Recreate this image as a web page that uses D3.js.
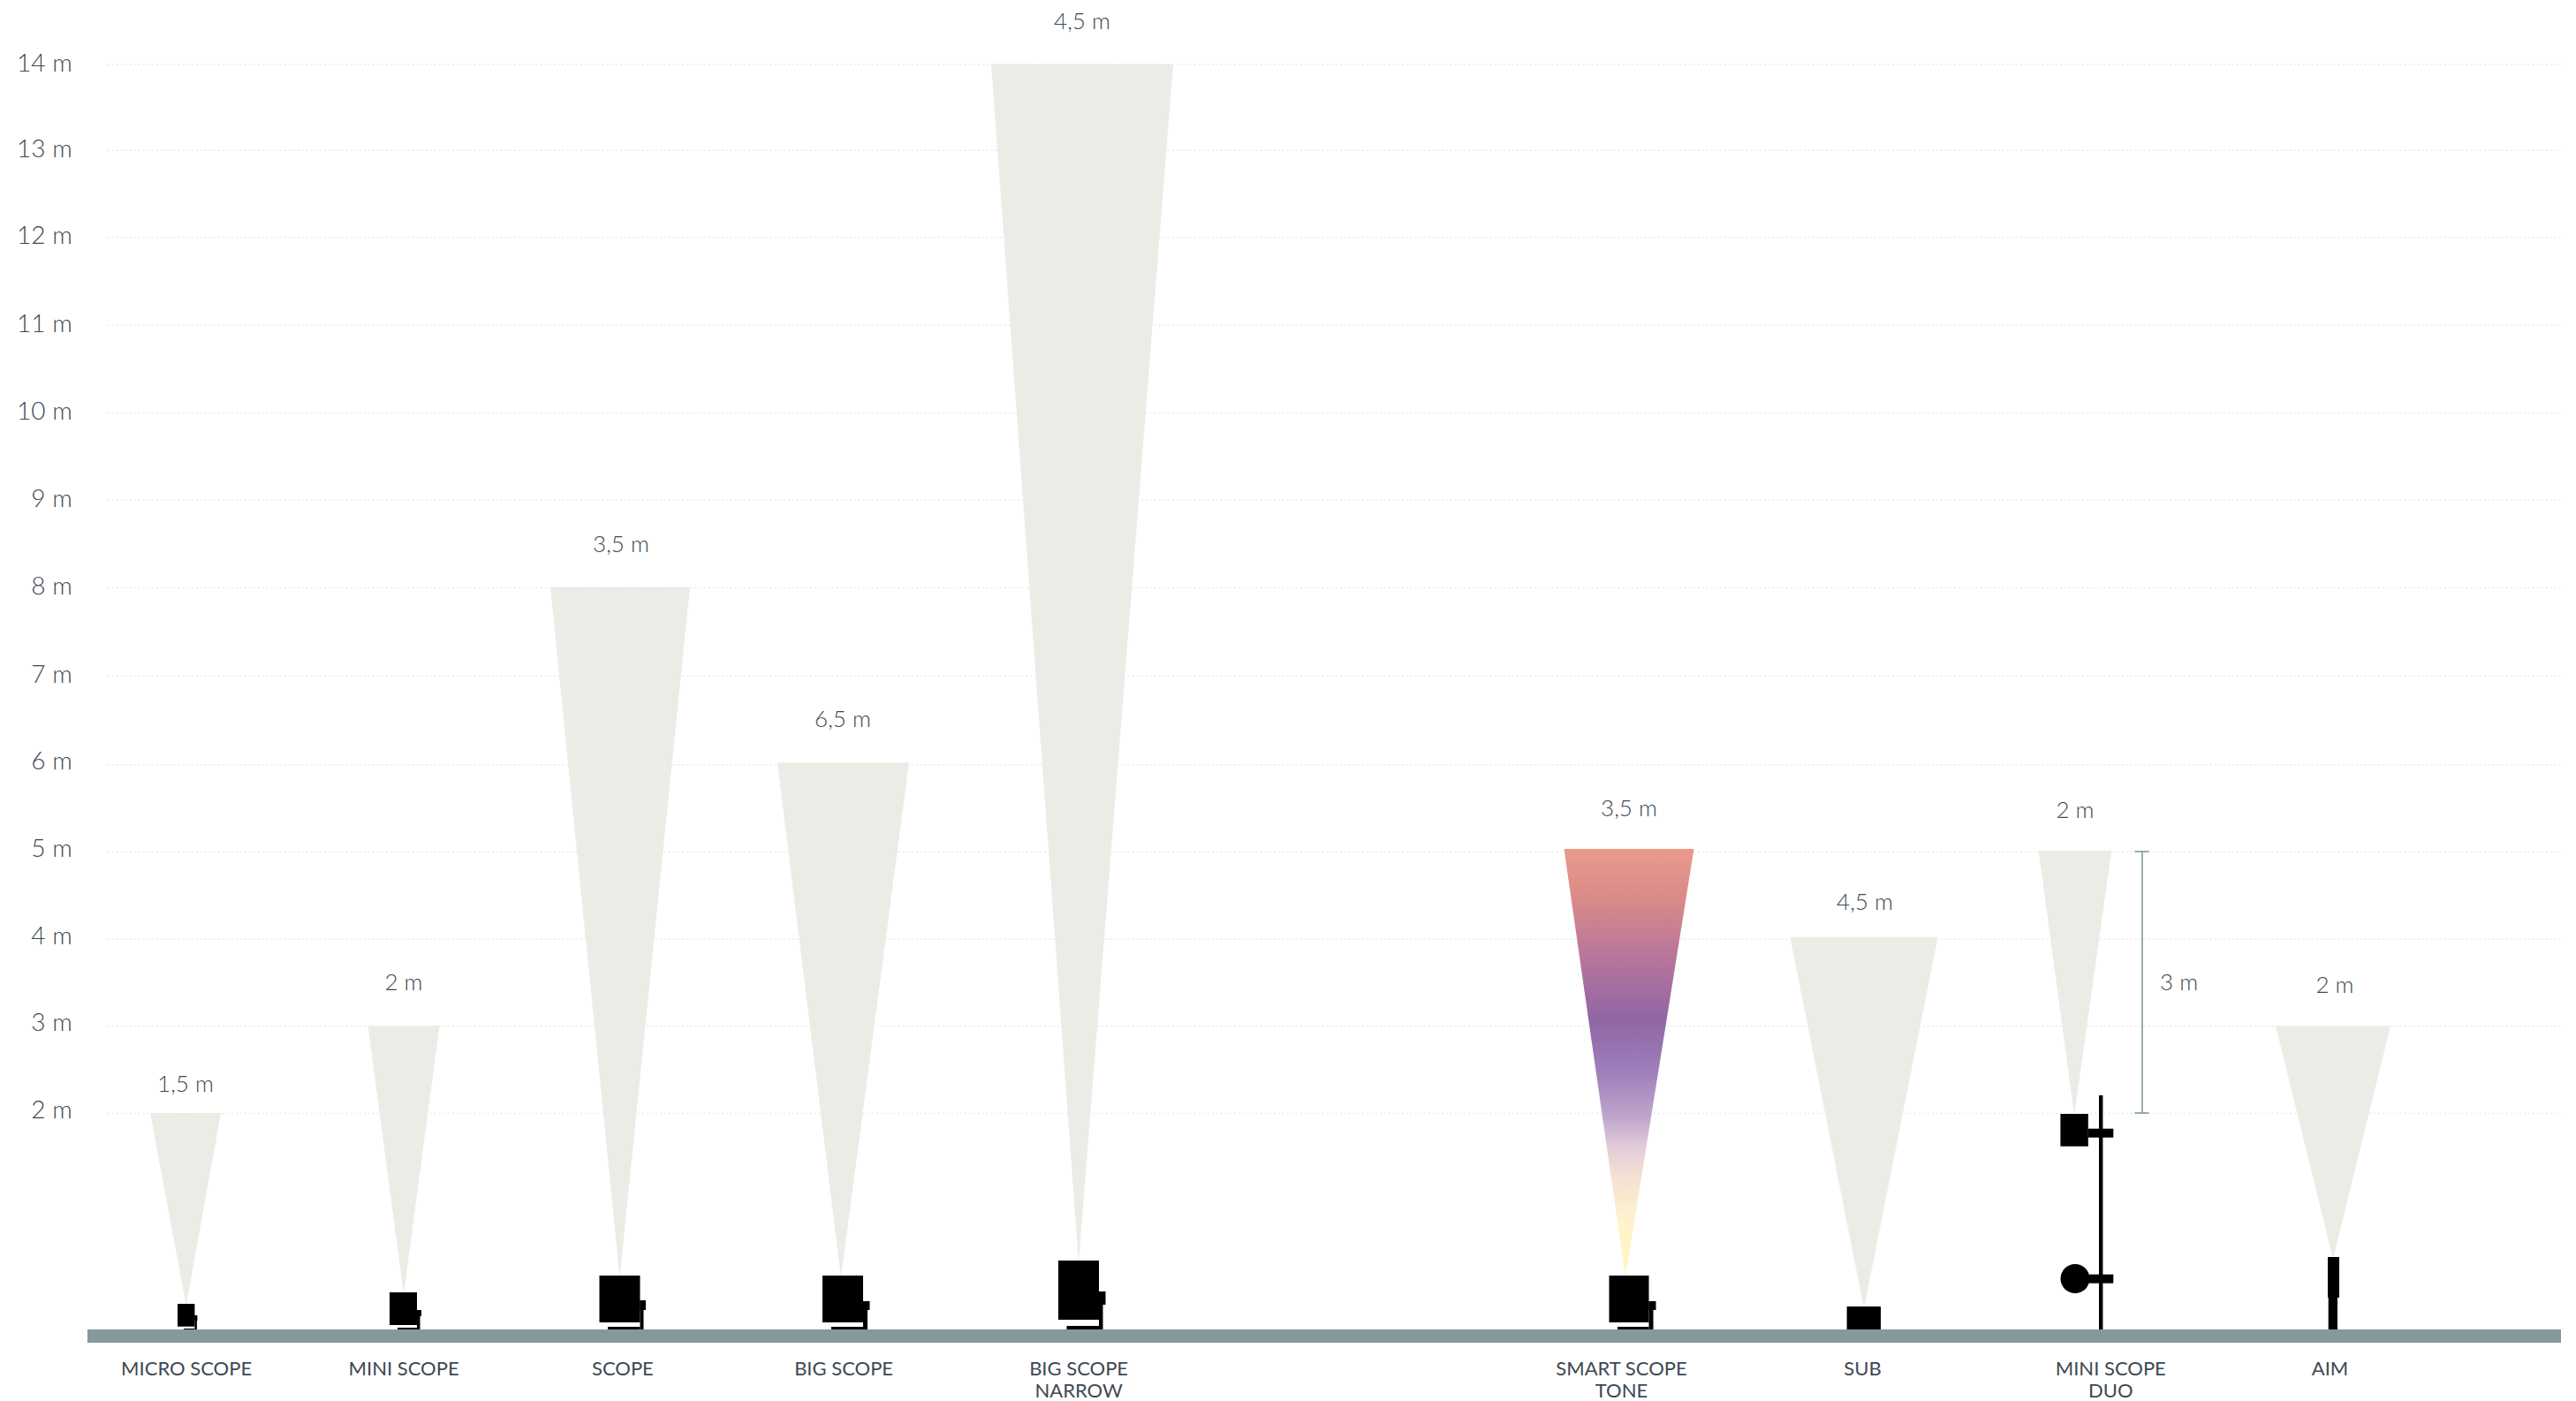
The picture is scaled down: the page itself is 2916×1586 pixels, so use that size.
<!DOCTYPE html>
<html>
<head>
<meta charset="utf-8">
<script src="https://cdn.jsdelivr.net/npm/d3@7"></script>
<style>
  html, body { margin: 0; padding: 0; background: #fff; }
  svg { display: block; }
  text { font-family: Lato, sans-serif; fill: #3d4853; }
</style>
</head>
<body>
<svg id="chart"></svg>
<script>
// product names, \n = second line of the label
var products = ["MICRO SCOPE", "MINI SCOPE", "SCOPE", "BIG SCOPE", "BIG SCOPE\nNARROW",
  "SMART SCOPE\nTONE", "SUB", "MINI SCOPE\nDUO", "AIM"];
// how far up the beam reaches, metres
var beamHeights = [2, 3, 8, 6.02, 14, 5.03, 4.02, 5.01, 3];
// beam spread printed above each beam
var spreadLabels = ["1,5 m", "2 m", "3,5 m", "6,5 m", "4,5 m", "3,5 m", "4,5 m", "2 m", "2 m"];
var yTicks = [2, 3, 4, 5, 6, 7, 8, 9, 10, 11, 12, 13, 14];
var mountSpan = [2, 5]; // the 3 m bracket next to mini scope duo

var width = 2916, height = 1586;
var floorTop = 1505, floorBottom = 1520, floorLeft = 99, floorRight = 2899, gridLeft = 121.7;

var svg = d3.select("#chart").attr("width", width).attr("height", height)
  .attr("viewBox", "0 0 " + width + " " + height);

// the bottom part of the axis is not to scale, 0-2 m is squeezed in
// and the grid in the original is a little uneven, hence the extra knots
var y = d3.scaleLinear().domain([0, 2, 6, 8, 10, 12, 13, 14])
  .range([floorTop, 1260, 865.3, 664.7, 467, 268.3, 169.7, 72.5]);

// hand placed columns, the chart has a wider gap before smart scope
var beamX = d3.scaleOrdinal(products, [210, 457, 702, 954.5, 1225, 1844, 2110, 2349, 2641]);
var apexX = d3.scaleOrdinal(products, [210.7, 457, 701.5, 952, 1221, 1840, 2110, 2348, 2641]);
var labelX = d3.scaleOrdinal(products, [210.6, 456.6, 704.4, 954.6, 1220.6, 1835, 2108, 2388.8, 2637]);
var spreadX = d3.scaleOrdinal(products, [210, 457, 703, 954, 1225, 1844, 2111, 2349, 2643]);
var beamWidth = d3.scaleOrdinal(products, [80, 81, 158, 149, 206, 147, 167.5, 82.5, 130]);
var spreadGap = d3.scaleOrdinal(products, [32, 48, 48, 48, 47, 45, 38, 45, 45]);
var apexY = d3.scaleOrdinal(products, [1476, 1463, 1444, 1444, 1427, 1444, 1479, 1261, 1423]);

var defs = svg.append("defs");
var tone = defs.append("linearGradient").attr("id", "tone")
  .attr("gradientUnits", "userSpaceOnUse")
  .attr("x1", 0).attr("x2", 0).attr("y1", 961).attr("y2", 1444);
[[0, "#ea9a8c"], [0.12, "#d98a88"], [0.25, "#b8769a"], [0.40, "#9166a5"], [0.52, "#9d7fbb"],
 [0.63, "#c0a6cc"], [0.70, "#e2cdd8"], [0.77, "#f5e2d4"], [0.87, "#fef2cc"], [1, "#fff8c0"]]
  .forEach(function(s) { tone.append("stop").attr("offset", s[0]).attr("stop-color", s[1]); });

// y axis with dotted grid
var yAxis = svg.append("g").attr("transform", "translate(" + gridLeft + ",0)")
  .call(d3.axisLeft(y).tickValues(yTicks).tickSize(-(floorRight - gridLeft)).tickPadding(40)
    .tickFormat(function(d) { return d + " m"; }));
yAxis.select(".domain").remove();
yAxis.selectAll("line").attr("stroke", "#e7e8e3").attr("stroke-width", 1.5).attr("stroke-dasharray", "2 3");
// the labels sit a bit higher against the grid from 6 m down
yAxis.selectAll("text").attr("dy", function(d) { return d <= 6 ? "0.2em" : "0.27em"; })
  .style("font-size", "28px").style("font-weight", 300);

// beams
var data = products.map(function(p, i) { return { name: p, h: beamHeights[i], label: spreadLabels[i] }; });
var line = d3.line();
svg.append("g").selectAll("path").data(data).enter().append("path")
  .attr("d", function(d) {
    var cx = beamX(d.name), w = beamWidth(d.name);
    return line([[cx - w / 2, y(d.h)], [cx + w / 2, y(d.h)], [apexX(d.name), apexY(d.name) + 2]]) + "Z";
  })
  .attr("fill", function(d) { return d.name.indexOf("TONE") >= 0 ? "url(#tone)" : "#ebece6"; });

// spread labels
svg.append("g").selectAll("text").data(data).enter().append("text")
  .attr("x", function(d) { return spreadX(d.name); })
  .attr("y", function(d) { return y(d.h) - spreadGap(d.name); })
  .attr("dy", "0.3em").attr("text-anchor", "middle")
  .style("font-size", "26px").style("font-weight", 300)
  .text(function(d) { return d.label; });

// lamps
var lamps = svg.append("g").attr("fill", "#000");
function box(x0, y0, x1, y1) {
  lamps.append("rect").attr("x", x0).attr("y", y0).attr("width", x1 - x0).attr("height", y1 - y0);
}
function scopeLamp(cx, o) {
  var l = cx - o.w / 2, r = cx + o.w / 2;
  box(l, floorTop - o.lift - o.h, r, floorTop - o.lift);
  box(r, floorTop - o.knobTop, r + o.knobW, floorTop - o.knobTop + o.knobH);
  box(r, floorTop - o.knobTop, r + o.stemW, floorTop);
  box(l + o.baseInset, floorTop - o.baseH, r, floorTop);
}
scopeLamp(210.7, { w: 19.4, h: 25.7, lift: 3.3, knobTop: 16, knobH: 6, knobW: 3, stemW: 2.5, baseInset: 7, baseH: 1 });
scopeLamp(456.5, { w: 31, h: 37, lift: 5, knobTop: 22, knobH: 7, knobW: 5, stemW: 3.5, baseInset: 9, baseH: 2 });
scopeLamp(701.5, { w: 46, h: 53, lift: 8, knobTop: 33, knobH: 11, knobW: 6.5, stemW: 4, baseInset: 9.5, baseH: 3 });
scopeLamp(954, { w: 46, h: 53, lift: 8, knobTop: 32, knobH: 10, knobW: 7.5, stemW: 5, baseInset: 10, baseH: 3 });
scopeLamp(1221, { w: 46, h: 67, lift: 11, knobTop: 43, knobH: 15, knobW: 7.5, stemW: 4.5, baseInset: 9.5, baseH: 4 });
scopeLamp(1844, { w: 45, h: 53, lift: 8, knobTop: 32, knobH: 10, knobW: 8, stemW: 5, baseInset: 9.5, baseH: 3 });
// sub
box(2090.6, 1479, 2129, floorTop);
// duo on its pole
box(2376, 1240, 2380.4, floorTop);
box(2332.4, 1261, 2363.8, 1297.7);
box(2363.8, 1277.7, 2392.3, 1287.7);
lamps.append("circle").attr("cx", 2349).attr("cy", 1447.5).attr("r", 16.5);
box(2365, 1442.7, 2392.3, 1452.7);
// aim
box(2635, 1423, 2648, 1469);
box(2635.7, 1469, 2646, floorTop);

// floor
svg.append("rect").attr("x", floorLeft).attr("y", floorTop)
  .attr("width", floorRight - floorLeft).attr("height", floorBottom - floorTop).attr("fill", "#84999b");

// product names under the floor
var xAxis = svg.append("g").attr("transform", "translate(0," + floorBottom + ")")
  .call(d3.axisBottom(labelX).tickSize(0).tickPadding(0).tickFormat(""));
xAxis.select(".domain").remove();
xAxis.selectAll(".tick text").each(function(d) {
  var t = d3.select(this).attr("y", null).attr("dy", null)
    .style("font-size", "22px").attr("text-anchor", "middle");
  d.split("\n").forEach(function(s, i) {
    t.append("tspan").attr("x", 0).attr("y", 29 + i * 25).attr("dy", "0.35em").text(s);
  });
});

// 3 m bracket
var bracket = svg.append("g").attr("stroke", "#84999b").attr("stroke-width", 1.6);
bracket.append("line").attr("x1", 2425).attr("x2", 2425).attr("y1", y(mountSpan[1])).attr("y2", y(mountSpan[0]));
mountSpan.forEach(function(m) {
  bracket.append("line").attr("x1", 2416.5).attr("x2", 2432.5).attr("y1", y(m)).attr("y2", y(m));
});
svg.append("text").attr("x", 2445).attr("y", (y(mountSpan[0]) + y(mountSpan[1])) / 2 + 1).attr("dy", "0.3em")
  .style("font-size", "26px").style("font-weight", 300)
  .text((mountSpan[1] - mountSpan[0]) + " m");
</script>
</body>
</html>
